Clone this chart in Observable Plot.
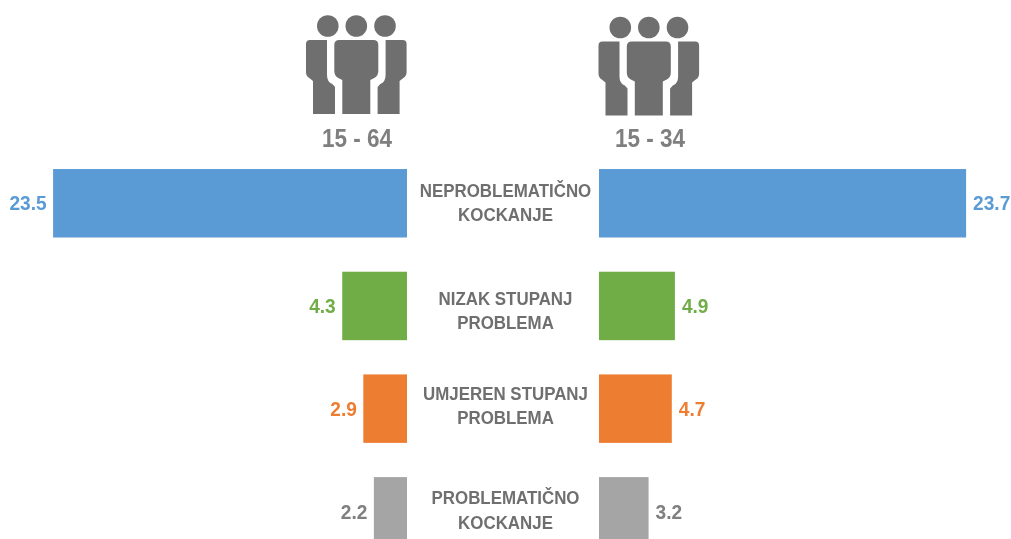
<!DOCTYPE html>
<html>
<head>
<meta charset="utf-8">
<script src="https://cdn.jsdelivr.net/npm/d3@7"></script>
<script src="https://cdn.jsdelivr.net/npm/@observablehq/plot@0.6"></script>
<style>
html,body{margin:0;padding:0;background:#fff;overflow:hidden;width:1011px;height:539px}
#chart{position:relative;width:1011px;height:539px;overflow:hidden}
#chart svg{position:absolute;top:0;filter:blur(0.45px)}
</style>
</head>
<body>
<div id="chart"></div>
<script>
const categories = ["NEPROBLEMATIČNO\nKOCKANJE", "NIZAK STUPANJ\nPROBLEMA", "UMJEREN STUPANJ\nPROBLEMA", "PROBLEMATIČNO\nKOCKANJE"];
const values1564 = [23.5, 4.3, 2.9, 2.2];
const values1534 = [23.7, 4.9, 4.7, 3.2];
const barColors = ["#5b9bd5", "#70ad47", "#ed7d31", "#a5a5a5"];
const valueColors = ["#5b9bd5", "#70ad47", "#ed7d31", "#7f7f7f"];
const groupLabels = ["15 - 64", "15 - 34"];
const labelShifts = [-2.5, 2.5, -4.7, -3];

const FONT = '"Liberation Sans",Arial,sans-serif';
const yScale = {type: "band", domain: categories, range: [134.8, 579.8], padding: 1/3, round: false};
const H = 539;

function rows(values) {
  return categories.map((c, i) => ({category: c, value: values[i], bar: barColors[i], text: valueColors[i]}));
}

// Icon: three people, local coords centred on x=0
const personSide = "M-50.3 44 Q-50.3 40 -46.3 40 L-29.3 40 L-29.3 75 Q-29.3 82 -24 84 L-21.3 87 L-21.3 114 L-43.3 114 L-43.3 81 L-47 78 Q-50.3 76 -50.3 72 Z";
const personMid = "M-22 45 Q-22 40 -17 40 L17 40 Q22 40 22 45 L22 71 Q22 76 18 78 L14 80 L14 114 L-14 114 L-14 80 L-18 78 Q-22 76 -22 71 Z";
function icon(cx, dy) {
  return () => {
    const g = d3.create("svg:g").attr("transform", `translate(${cx},${dy})`).attr("fill", "#6f6f6f");
    [-28.5, 0, 28.7].forEach(x => g.append("circle").attr("cx", x).attr("cy", 26).attr("r", 10.8));
    g.append("path").attr("d", personSide);
    g.append("path").attr("d", personSide).attr("transform", "scale(-1,1)");
    g.append("path").attr("d", personMid);
    return g.node();
  };
}

// The reference uses a condensed bold face: squeeze real text horizontally.
function condense(svg, selector, k) {
  svg.querySelectorAll(selector).forEach(t => {
    const tr = t.getAttribute("transform") || "";
    t.setAttribute("transform", `${tr} scale(${k},1)`);
  });
}

function side({values, width, k, reverse, label, labelX, iconX, iconDy}) {
  const data = rows(values);
  const svg = Plot.plot({
    width, height: H, margin: 0,
    x: {domain: [0, width / k], range: reverse ? [width, 0] : [0, width], axis: null},
    y: {...yScale, axis: null},
    color: {type: "identity"},
    style: {background: "transparent", fontFamily: FONT, overflow: "visible"},
    marks: [
      icon(iconX, iconDy),
      Plot.text([label], {text: d => d, frameAnchor: "top-left", dx: labelX, dy: 138, textAnchor: "middle", fontSize: 25, fontWeight: 700, fill: "#7f7f7f", lineAnchor: "middle", className: "group"}),
      Plot.barX(data, {x1: 0, x2: "value", y: "category", fill: "bar"}),
      Plot.text(data, {x: "value", y: "category", text: d => d.value.toFixed(1), fill: "text", textAnchor: reverse ? "end" : "start", dx: reverse ? -7 : 6.5, fontSize: 21, fontWeight: 700, className: "val"})
    ]
  });
  condense(svg, ".group text", 0.9);
  condense(svg, ".val text", 0.91);
  return svg;
}

const left = side({values: values1564, width: 407, k: 15.06, reverse: true, label: groupLabels[0], labelX: 356.5, iconX: 356.3, iconDy: 0});
const right = side({values: values1534, width: 412, k: 15.49, reverse: false, label: groupLabels[1], labelX: 50.5, iconX: 49.8, iconDy: 1.5});
const center = Plot.plot({
  width: 192, height: H, margin: 0,
  x: {axis: null, domain: [0, 1], range: [0, 192]},
  y: {...yScale, axis: null},
  style: {background: "transparent", fontFamily: FONT, overflow: "visible"},
  marks: categories.map((c, i) =>
    Plot.text([c], {y: d => d, text: d => d, frameAnchor: "middle", dx: 2, dy: labelShifts[i], fontSize: 19, fontWeight: 700, fill: "#6f6f6f", lineHeight: 1.28, textAnchor: "middle", className: "cat"})
  )
});
condense(center, ".cat text", 0.89);
left.style.left = "0px"; center.style.left = "407px"; right.style.left = "599px";
document.getElementById("chart").append(left, center, right);
</script>
</body>
</html>
